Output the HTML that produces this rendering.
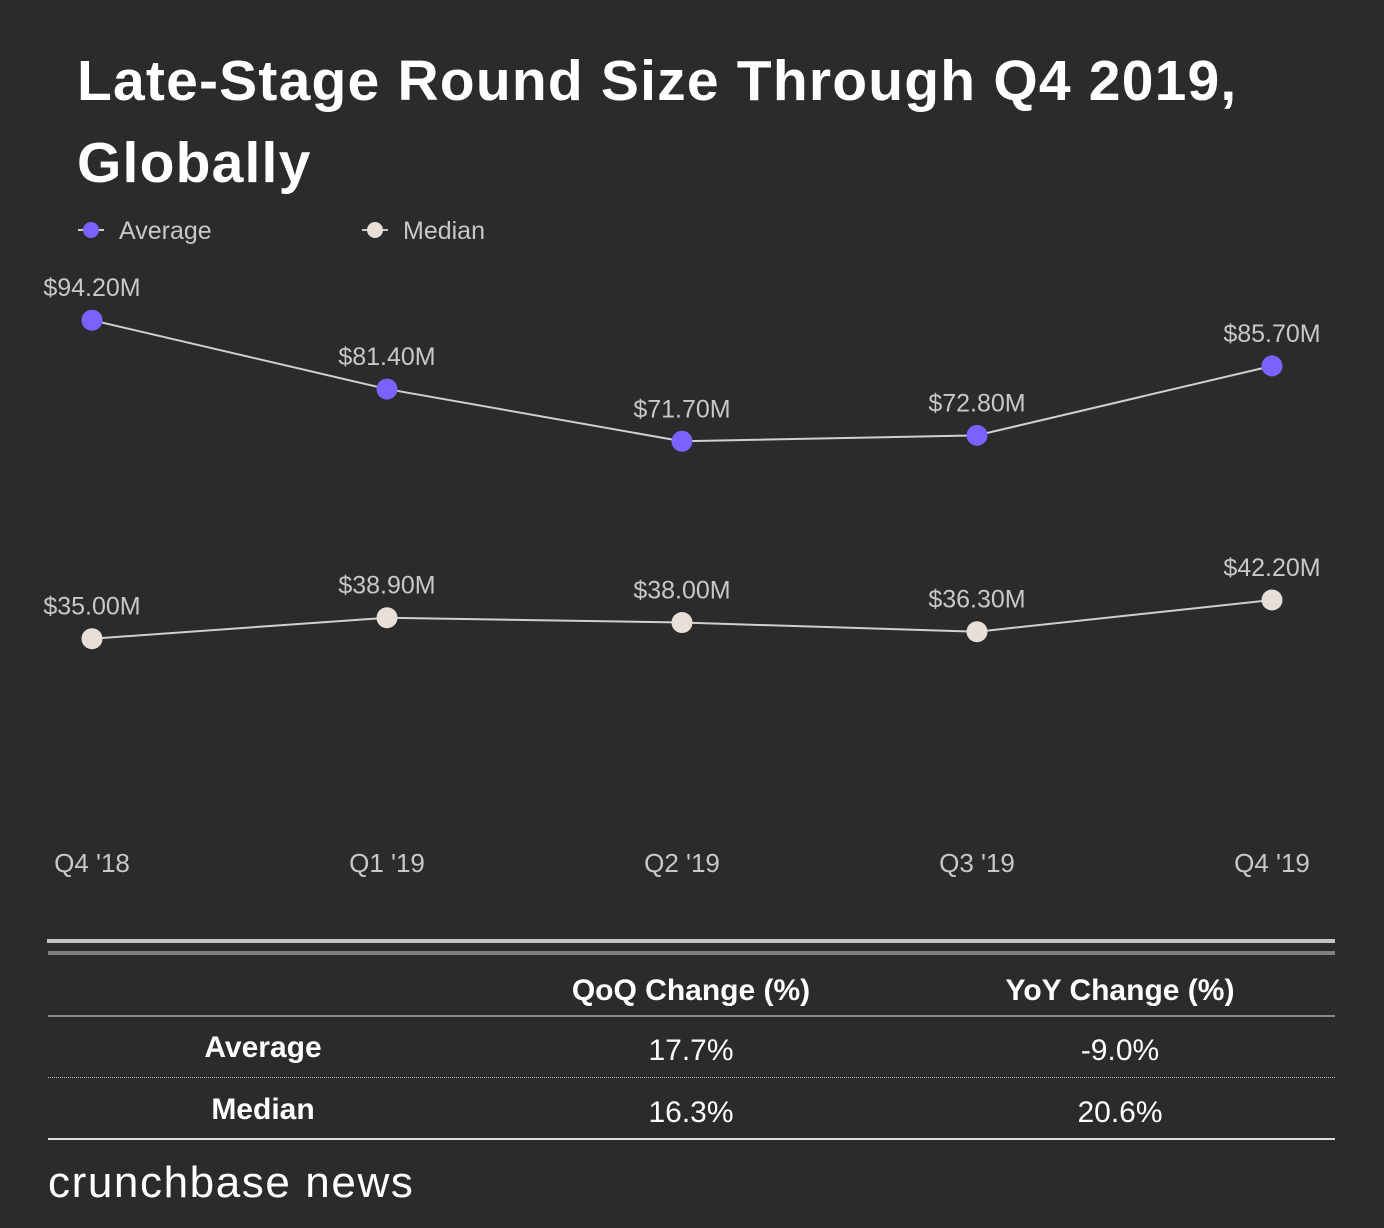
<!DOCTYPE html>
<html><head><meta charset="utf-8"><style>
body{margin:0;background:#2b2b2b;}
#wrap{position:relative;width:1384px;height:1228px;background:#2b2b2b;overflow:hidden;font-family:"Liberation Sans",sans-serif;}
.t{position:absolute;white-space:nowrap;}
</style></head><body>
<div id="wrap">
<div class="t" style="left:77px;top:40px;font-size:57px;font-weight:bold;color:#fff;line-height:82px;letter-spacing:1.2px">Late-Stage Round Size Through Q4 2019,<br>Globally</div>
<svg id="chart" width="1384" height="900" style="position:absolute;left:0;top:0"></svg>
<div style="position:absolute;left:47px;top:939px;width:1288px;height:4px;background:#c4c4c4"></div>
<div style="position:absolute;left:48px;top:951px;width:1287px;height:4px;background:#808080"></div>
<div class="t" style="left:491px;width:400px;text-align:center;top:974px;font-size:30px;font-weight:bold;color:#fff">QoQ Change (%)</div>
<div class="t" style="left:920px;width:400px;text-align:center;top:974px;font-size:30px;font-weight:bold;color:#fff">YoY Change (%)</div>
<div style="position:absolute;left:48px;top:1015px;width:1287px;height:2px;background:#8a8a8a"></div>
<div class="t" style="left:63px;width:400px;text-align:center;top:1031px;font-size:30px;font-weight:bold;color:#fff">Average</div>
<div class="t" style="left:491px;width:400px;text-align:center;top:1034px;font-size:30px;color:#fff">17.7%</div>
<div class="t" style="left:920px;width:400px;text-align:center;top:1034px;font-size:30px;color:#fff">-9.0%</div>
<div style="position:absolute;left:48px;top:1077px;width:1287px;border-top:1px dotted #bbb"></div>
<div class="t" style="left:63px;width:400px;text-align:center;top:1093px;font-size:30px;font-weight:bold;color:#fff">Median</div>
<div class="t" style="left:491px;width:400px;text-align:center;top:1096px;font-size:30px;color:#fff">16.3%</div>
<div class="t" style="left:920px;width:400px;text-align:center;top:1096px;font-size:30px;color:#fff">20.6%</div>
<div style="position:absolute;left:48px;top:1138px;width:1287px;height:2px;background:#ddd"></div>
<div class="t" style="left:48px;top:1158px;font-size:44px;color:#fff;letter-spacing:1.6px">crunchbase news</div>
</div>
<script>
const categories=["Q4 '18","Q1 '19","Q2 '19","Q3 '19","Q4 '19"];
const averageValues=[94.2,81.4,71.7,72.8,85.7];
const medianValues=[35.0,38.9,38.0,36.3,42.2];
const averageLabels=["$94.20M","$81.40M","$71.70M","$72.80M","$85.70M"];
const medianLabels=["$35.00M","$38.90M","$38.00M","$36.30M","$42.20M"];
const NS="http://www.w3.org/2000/svg";
const svg=document.getElementById('chart');
const x=i=>92+i*295;
const y=v=>827-v*5.38;
function mk(t,a){const e=document.createElementNS(NS,t);for(const k in a)e.setAttribute(k,a[k]);svg.appendChild(e);return e;}
function series(vals,labels,color,name){
  const pts=vals.map((v,i)=>x(i)+','+y(v)).join(' ');
  const pl=mk('polyline',{points:pts,fill:'none',stroke:'#d0d0d0','stroke-width':2});
  
  
  vals.forEach((v,i)=>{
    const c=mk('circle',{cx:x(i),cy:y(v),r:10.5,fill:color});
    
    
    const t=mk('text',{x:x(i),y:y(v)-24,'text-anchor':'middle','font-size':25,fill:'#c8c8c8','font-family':'Liberation Sans, sans-serif'});
    t.textContent=labels[i];
    
    
  });
}
series(averageValues,averageLabels,'#7b61ff','average');
series(medianValues,medianLabels,'#e8e0d8','median');
categories.forEach((c,i)=>{
  const t=mk('text',{x:x(i),y:872,'text-anchor':'middle','font-size':26,fill:'#c8c8c8','font-family':'Liberation Sans, sans-serif'});
  t.textContent=c;
  
  
});
[[78,'#7b61ff','Average','legend-average'],[362,'#e8e0d8','Median','legend-median']].forEach(([lx,col,lab,nm])=>{
  const g=mk('g',{});
  
  
  const l=document.createElementNS(NS,'line');
  l.setAttribute('x1',lx);l.setAttribute('x2',lx+26);l.setAttribute('y1',230);l.setAttribute('y2',230);l.setAttribute('stroke','#ccc');l.setAttribute('stroke-width',2);g.appendChild(l);
  const c=document.createElementNS(NS,'circle');
  c.setAttribute('cx',lx+13);c.setAttribute('cy',230);c.setAttribute('r',8);c.setAttribute('fill',col);g.appendChild(c);
  const t=document.createElementNS(NS,'text');
  t.setAttribute('x',lx+41);t.setAttribute('y',239);t.setAttribute('font-size',25);t.setAttribute('fill','#c8c8c8');t.setAttribute('font-family','Liberation Sans, sans-serif');
  t.textContent=lab;g.appendChild(t);
});
</script>
</body></html>
